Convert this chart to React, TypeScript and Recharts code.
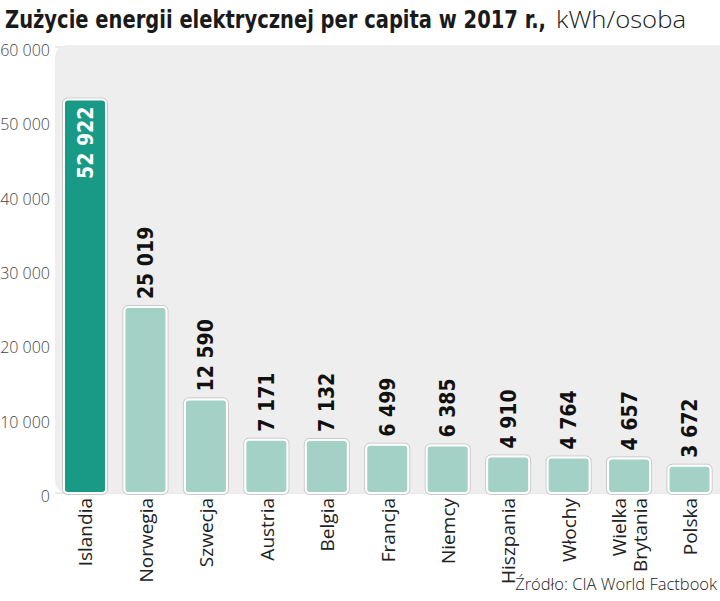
import React from 'react';
import { BarChart, Bar, XAxis, YAxis, CartesianGrid, ReferenceArea, LabelList } from 'recharts';

const categories = ['Islandia', 'Norwegia', 'Szwecja', 'Austria', 'Belgia', 'Francja', 'Niemcy', 'Hiszpania', 'Włochy', 'Wielka Brytania', 'Polska'];
const values = [52922, 25019, 12590, 7171, 7132, 6499, 6385, 4910, 4764, 4657, 3672];
const yTicks = [0, 10000, 20000, 30000, 40000, 50000, 60000];

const data = categories.map((name, i) => ({ name, value: values[i] }));

const fmt = (n: number) => String(n).replace(/\B(?=(\d{3})+(?!\d))/g, ' ');

const COND_FONT = '"DejaVu Sans Condensed", "DejaVu Sans", sans-serif';
const LIGHT_FONT = '"Open Sans", sans-serif';

const BgShape = (props: any) => {
  const { x, y, width, height } = props;
  const r = 14;
  const t = y - 2;
  const b = y + height;
  const l = x;
  const rt = x + width + r;
  const d = `M${l},${t + r} Q${l},${t} ${l + r},${t} L${rt - r},${t} Q${rt},${t} ${rt},${t + r} L${rt},${b} L${l + r},${b} Q${l},${b} ${l},${b - r} Z`;
  return <path d={d} fill="#efeeee" />;
};

const BarShape = (props: any) => {
  const { x, y, width, height, index } = props;
  const fill = index === 0 ? '#189a86' : '#a3d1c5';
  return (
    <g>
      <rect x={x - 1.5} y={y - 1.5} width={width + 3} height={height + 3} rx={5} fill="none" stroke="#bdbdbd" strokeWidth={1} opacity={0.8} />
      <rect x={x} y={y} width={width} height={height} rx={4} fill={fill} stroke="#ffffff" strokeWidth={2} />
    </g>
  );
};

const ValueLabel = (props: any) => {
  const { x, y, width, value, index } = props;
  const cx = x + width / 2;
  const inside = index === 0;
  return (
    <text
      transform={`translate(${cx},${inside ? y + 7 : y - 8}) rotate(-90)`}
      x={0}
      y={0}
      dy={7.5}
      textAnchor={inside ? 'end' : 'start'}
      fill={inside ? '#ffffff' : '#111111'}
      fontFamily={COND_FONT}
      fontWeight={700}
      fontSize={21}
    >
      {fmt(value)}
    </text>
  );
};

const XTick = (props: any) => {
  const { x, y, payload } = props;
  const lines = payload.value === 'Wielka Brytania' ? ['Wielka', 'Brytania'] : [payload.value];
  const n = lines.length;
  return (
    <g transform={`translate(${x},${y})`}>
      {lines.map((l, i) => (
        <text key={i} transform="rotate(-90)" x={3} y={0} dy={7 + (i - (n - 1) / 2) * 21} textAnchor="end" fill="#222222" fontFamily={LIGHT_FONT} fontSize={19}>
          {l}
        </text>
      ))}
    </g>
  );
};

const YTick = (props: any) => {
  const { x, y, payload } = props;
  return (
    <text x={x} y={y} dy={9} textAnchor="end" fill="#444444" fontFamily={LIGHT_FONT} fontWeight={300} fontSize={16}>
      {fmt(payload.value)}
    </text>
  );
};

export default function App() {
  const sx = 0.83;
  return (
    <div style={{ position: 'absolute', left: 0, top: 0, width: 720, height: 601, background: '#ffffff', overflow: 'hidden' }}>
      <svg width={720} height={40} style={{ position: 'absolute', left: 0, top: 0 }}>
        <text transform={`translate(5,28) scale(${sx},1)`} x={0} y={0} fill="#1a1a1a" fontFamily={COND_FONT} fontWeight={700} fontSize={25} textLength={541 / sx} lengthAdjust="spacingAndGlyphs">
          Zużycie energii elektrycznej per capita w 2017 r.,
        </text>
        <text x={556} y={28} fill="#1a1a1a" fontFamily={LIGHT_FONT} fontWeight={300} fontSize={24} textLength={130} lengthAdjust="spacingAndGlyphs">
          kWh/osoba
        </text>
      </svg>
      <BarChart width={720} height={601} data={data} margin={{ top: 47, right: 0, bottom: 0, left: 0 }} barSize={42}>
        <ReferenceArea y1={0} y2={60000} shape={BgShape} ifOverflow="visible" />
        <CartesianGrid vertical={false} stroke="#d6d6d6" strokeWidth={1} />
        <XAxis dataKey="name" axisLine={false} tickLine={false} height={108} interval={0} tick={<XTick />} />
        <YAxis domain={[0, 60000]} ticks={yTicks} axisLine={false} tickLine={false} width={55} tickSize={0} tickMargin={5} tick={<YTick />} />
        <Bar dataKey="value" isAnimationActive={false} shape={<BarShape />}>
          <LabelList dataKey="value" content={<ValueLabel />} />
        </Bar>
      </BarChart>
      <div style={{ position: 'absolute', right: 3, bottom: 6, fontFamily: LIGHT_FONT, fontWeight: 300, fontSize: 16.5, color: '#222222', whiteSpace: 'nowrap' }}>
        Źródło: CIA World Factbook
      </div>
    </div>
  );
}
